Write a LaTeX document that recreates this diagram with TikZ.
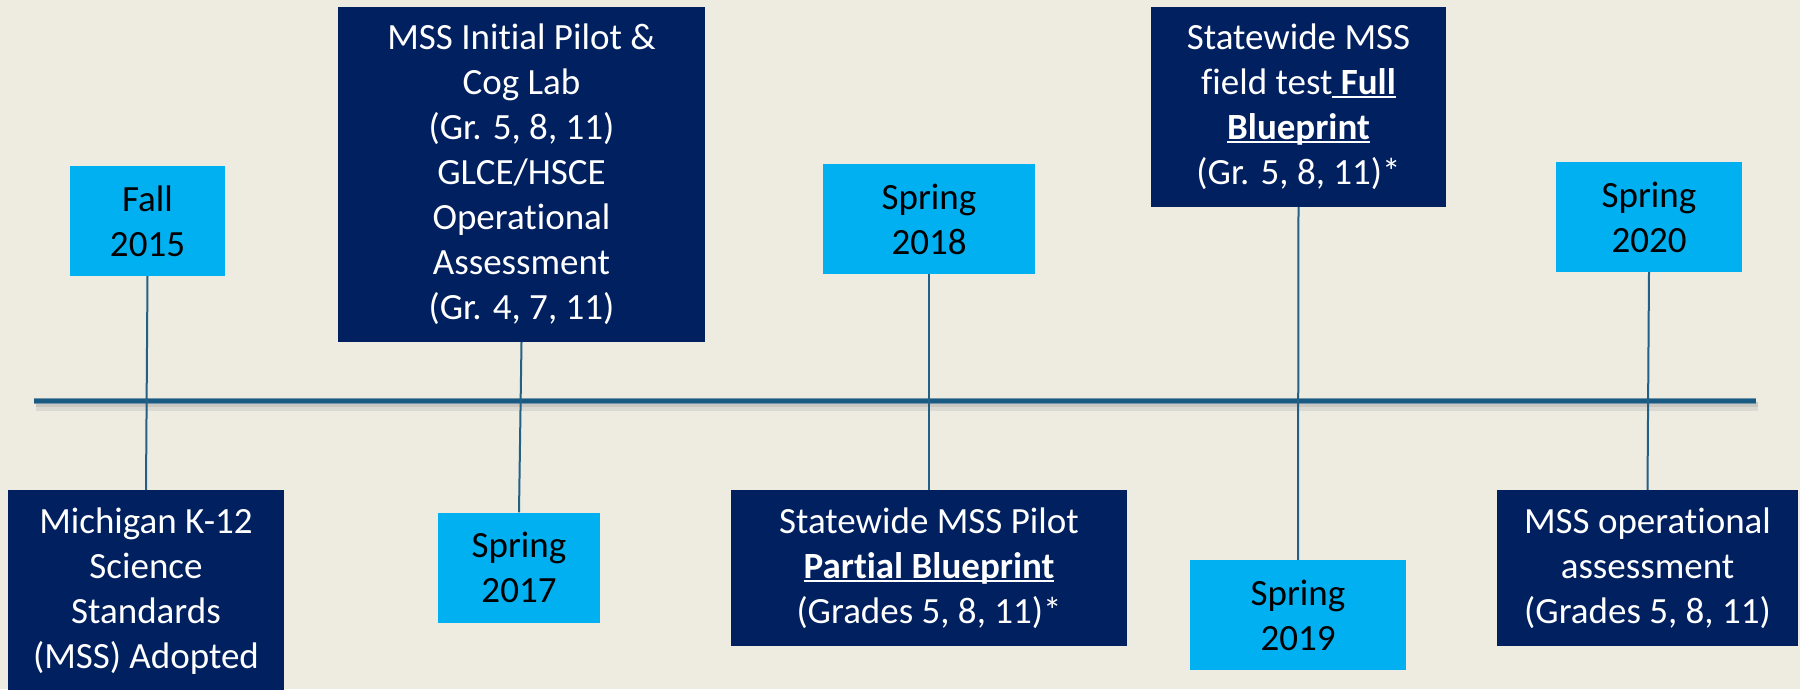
\documentclass[tikz,border=0pt]{standalone}
\usepackage{fontspec}
\setmainfont{Carlito}[Ligatures=NoCommon]
\definecolor{pagebg}{HTML}{EEECE1}
\definecolor{navy}{HTML}{002060}
\definecolor{sky}{HTML}{00B0F0}
\definecolor{axisc}{HTML}{195A82}
\definecolor{stemc}{HTML}{245F84}
% underline set close to the baseline
\newcommand\undl[1]{\setbox0\hbox{#1}\rlap{\rule[-0.1em]{\wd0}{0.06em}}\box0}

\begin{document}
\begin{tikzpicture}[x=1pt,y=-1pt,
  every node/.style={font=\fontsize{37}{45}\selectfont, align=center, inner sep=0pt},
  event/.style={fill=navy, text=white},
  datebox/.style={fill=sky, text=black},
  stemline/.style={draw=stemc, line width=2pt}]
\fill[pagebg] (0,0) rectangle (1800,689);
\useasboundingbox (0,0) rectangle (1800,689);
\clip (0,0) rectangle (1800,689);

% time axis with soft shadow
\draw[line width=9pt, black!30, opacity=0.3] (36,406) -- (1758,406);
\draw[line width=5pt, black!35, opacity=0.35] (36,404) -- (1758,404);
\draw[line width=5.5pt, black!15!axisc!60!white] (34,401) -- (1756,401);
\draw[line width=4pt, axisc] (34,401) -- (1756,401);

% events above / below the axis
\node[datebox, minimum width=155pt, minimum height=110pt] (fall) at (147.5,221) {Fall\\2015};
\node[event, minimum width=276pt, minimum height=202pt] (mich) at (146,591) {Michigan K-12\\Science\\Standards\\(MSS) Adopted};

\node[event, minimum width=367pt, minimum height=335pt] (init) at (521.5,174.5) {MSS Initial Pilot \&\\Cog Lab\\(Gr. 5, 8, 11)\\GLCE/HSCE\\Operational\\Assessment\\(Gr. 4, 7, 11)};
\node[datebox, minimum width=162pt, minimum height=110pt] (s17) at (519,567.5) {Spring\\2017};

\node[datebox, minimum width=212pt, minimum height=110pt] (s18) at (929,219) {Spring\\2018};
\node[event, minimum width=396pt, minimum height=156pt] (pilot) at (929,568) {Statewide MSS Pilot\\\undl{\textbf{Partial Blueprint}}\\(Grades 5, 8, 11)*};

\node[event, minimum width=295pt, minimum height=200pt] (field) at (1298.5,107) {Statewide MSS\\field test\undl{ \textbf{Full}}\\\undl{\textbf{Blueprint}}\\(Gr. 5, 8, 11)*};
\node[datebox, minimum width=216pt, minimum height=110pt] (s19) at (1298,615) {Spring\\2019};

\node[datebox, minimum width=186pt, minimum height=110pt] (s20) at (1649,217) {Spring\\2020};
\node[event, minimum width=301pt, minimum height=156pt] (oper) at (1647.5,568) {MSS operational\\assessment\\(Grades 5, 8, 11)};

% stems joining each date to its event
\draw[stemline] (fall.south) -- (mich.north);
\draw[stemline] (init.south) -- (s17.north);
\draw[stemline] (s18.south) -- (pilot.north);
\draw[stemline] (field.south) -- (s19.north);
\draw[stemline] (s20.south) -- (oper.north);
\end{tikzpicture}
\end{document}
